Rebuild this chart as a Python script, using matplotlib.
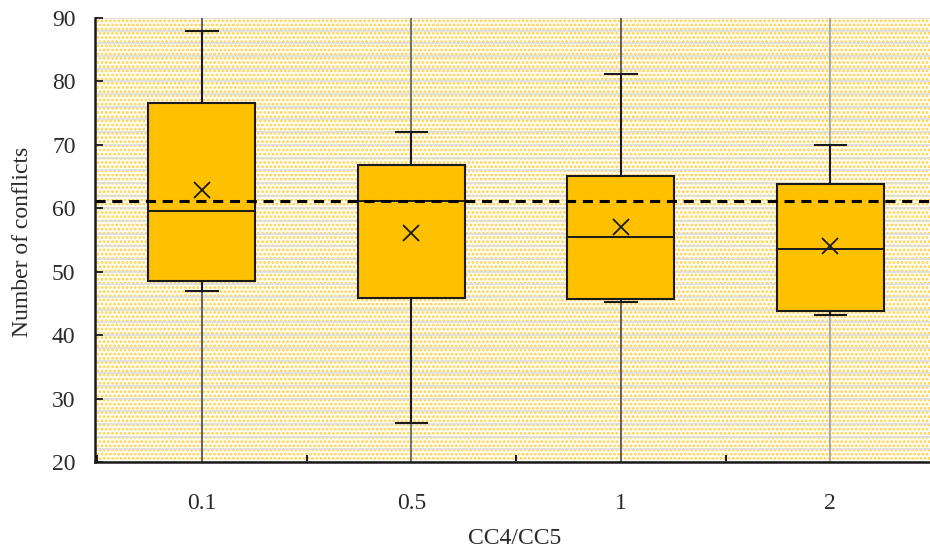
import matplotlib
matplotlib.use("Agg")
import matplotlib.pyplot as plt
from matplotlib.patches import Rectangle
from matplotlib.ticker import MultipleLocator

# ---- data ----
categories = ["0.1", "0.5", "1", "2"]
whisker_low = [47.0, 26.1, 45.2, 43.2]
q1 = [48.5, 45.9, 45.7, 43.8]
median = [59.6, 61.1, 55.5, 53.6]
q3 = [76.6, 66.8, 65.1, 63.8]
whisker_high = [88.0, 72.0, 81.2, 70.0]
mean = [62.9, 56.1, 57.0, 54.1]
reference_level = 61.1
y_ticks = [20, 30, 40, 50, 60, 70, 80, 90]

plt.rcParams['font.family'] = ['Liberation Serif', 'DejaVu Serif']
plt.rcParams['hatch.linewidth'] = 1.3

W, H = 930, 550
fig = plt.figure(figsize=(W / 100, H / 100), dpi=100)
fig.patch.set_facecolor('white')

spacing_px = 209.5
left_px, top_px, bottom_px = 95, 18, 462
xmin, xmax = -0.51, 3.5
ax = fig.add_axes([left_px / W, (H - bottom_px) / H,
                   (xmax - xmin) * spacing_px / W, (bottom_px - top_px) / H])
ax.set_xlim(xmin, xmax)
ax.set_ylim(20, 90)

# patterned background
ax.set_facecolor('white')
bg = Rectangle((0, 0), 1, 1, transform=ax.transAxes, facecolor='#FFFCF2',
               edgecolor='#FFD04A', hatch='....', lw=0, zorder=0)
ax.add_patch(bg)

# horizontal light gridlines every 2 units
ax.yaxis.set_minor_locator(MultipleLocator(2))
ax.set_yticks(y_ticks)
ax.grid(axis='y', which='both', color='#DCDCDC', lw=1.2, zorder=1)
ax.set_axisbelow(True)

positions = list(range(len(categories)))
vcolors = ['#606060', '#707070', '#606060', '#A8A8A8']
for p, c in zip(positions, vcolors):
    ax.axvline(p, color=c, lw=1.4, zorder=1.5)

stats = []
for i, cat in enumerate(categories):
    stats.append(dict(label=cat, whislo=whisker_low[i], q1=q1[i], med=median[i],
                      q3=q3[i], whishi=whisker_high[i], mean=mean[i], fliers=[]))

ax.bxp(stats, positions=positions, widths=0.51, capwidths=0.15,
       showmeans=True, patch_artist=True, manage_ticks=False,
       boxprops=dict(facecolor='#FFC000', edgecolor='#1a1a1a', lw=1.5),
       medianprops=dict(color='#1a1a1a', lw=1.4),
       whiskerprops=dict(color='#1a1a1a', lw=1.5),
       capprops=dict(color='#1a1a1a', lw=1.5),
       meanprops=dict(marker='x', markeredgecolor='#1a1a1a', markersize=11,
                      markeredgewidth=1.3),
       zorder=3)

ax.axhline(reference_level, color='black', lw=2.2, ls=(0, (3.3, 2.2)), zorder=6)

# ticks
ax.set_xticks(positions)
ax.set_xticklabels(categories)
ax.xaxis.set_minor_locator(MultipleLocator(1, offset=0.5))
ax.tick_params(axis='x', which='major', length=0, pad=22, labelsize=17, colors='#2a2a2a')
ax.tick_params(axis='x', which='minor', direction='in', length=5, width=1.5, color='#1a1a1a')
ax.tick_params(axis='y', which='major', direction='in', length=6, width=1.3,
               pad=14, labelsize=17, color='#1a1a1a', labelcolor='#2a2a2a')
ax.tick_params(axis='y', which='minor', length=0)

for s in ['top', 'right']:
    ax.spines[s].set_visible(False)
for s in ['left', 'bottom']:
    ax.spines[s].set_linewidth(1.8)
    ax.spines[s].set_color('#1a1a1a')
    ax.spines[s].set_zorder(7)

fig.text(22 / W, 1 - 242 / H, 'Number of conflicts', rotation=90, ha='center',
         va='center', fontsize=17, color='#2a2a2a')
fig.text(515 / W, 1 - 538 / H, 'CC4/CC5', ha='center', va='center',
         fontsize=17, color='#2a2a2a')

fig.savefig('out.png', dpi=100)
